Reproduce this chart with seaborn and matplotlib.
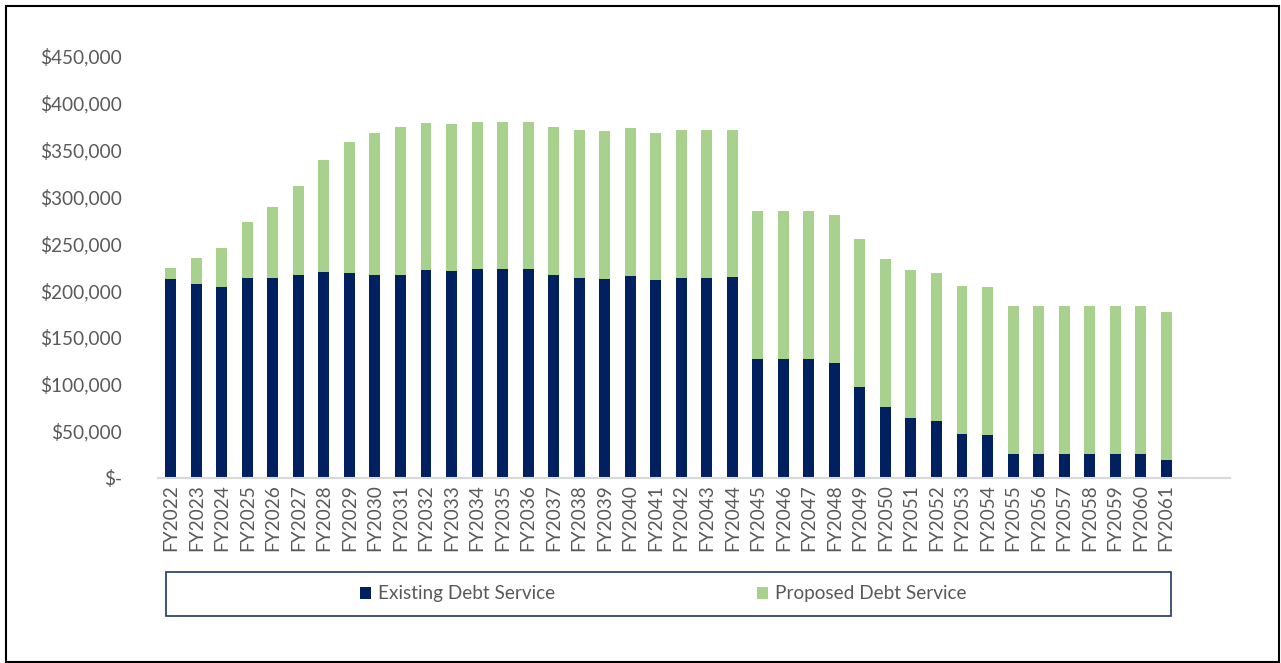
import matplotlib
matplotlib.use("Agg")
import matplotlib.pyplot as plt
import seaborn as sns
import pandas as pd
from matplotlib.patches import Rectangle, Patch
from matplotlib.ticker import FuncFormatter, MultipleLocator

years = ["FY2022", "FY2023", "FY2024", "FY2025", "FY2026", "FY2027", "FY2028", "FY2029",
         "FY2030", "FY2031", "FY2032", "FY2033", "FY2034", "FY2035", "FY2036", "FY2037",
         "FY2038", "FY2039", "FY2040", "FY2041", "FY2042", "FY2043", "FY2044", "FY2045",
         "FY2046", "FY2047", "FY2048", "FY2049", "FY2050", "FY2051", "FY2052", "FY2053",
         "FY2054", "FY2055", "FY2056", "FY2057", "FY2058", "FY2059", "FY2060", "FY2061"]

existing = [211600, 206300, 203100, 212700, 212700, 215900, 219100, 218000,
            215900, 215900, 221200, 220100, 222300, 222300, 222300, 215900,
            212700, 211600, 214800, 210500, 212700, 212700, 213700, 126300,
            126300, 126300, 122000, 96500, 75200, 63400, 60200, 46400,
            45300, 25100, 25100, 25100, 25100, 25100, 25100, 18700]

proposed = [11700, 27700, 41600, 59700, 75700, 94800, 119400, 139700,
            151400, 157800, 157800, 157800, 157700, 157700, 157700, 157800,
            157800, 157800, 157800, 157800, 157800, 157800, 157800, 157800,
            157800, 157800, 157800, 157700, 157700, 157800, 157800, 157700,
            157800, 157700, 157700, 157700, 157700, 157700, 157700, 157700]

series_names = ["Existing Debt Service", "Proposed Debt Service"]
NAVY = "#002060"
GREEN = "#A9D18E"
TXT = "#595959"
FS = 13.7

df = pd.DataFrame({"year": years, "existing": existing, "proposed": proposed})
df["total"] = df["existing"] + df["proposed"]

W, H = 1281, 663
fig = plt.figure(figsize=(W / 100, H / 100), dpi=100)
sns.set_style("white")
plt.rcParams["font.family"] = ["Lato", "DejaVu Sans"]

ax = fig.add_axes([158 / W, (H - 477.5) / H, 1072 / W, 421.5 / H])

sns.barplot(data=df, x="year", y="total", color=GREEN, saturation=1, width=0.43,
            linewidth=0, edgecolor="none", ax=ax)
sns.barplot(data=df, x="year", y="existing", color=NAVY, saturation=1, width=0.43,
            linewidth=0, edgecolor="none", ax=ax)

ax.set_xlim(-0.5, len(years) + 1.5)
ax.set_ylim(0, 450000)
ax.yaxis.set_major_locator(MultipleLocator(50000))
ax.yaxis.set_major_formatter(FuncFormatter(lambda v, p: "$-" if v == 0 else f"${v:,.0f}"))
ax.set_xlabel("")
ax.set_ylabel("")

for s in ["top", "right", "left"]:
    ax.spines[s].set_visible(False)
ax.spines["bottom"].set_color("#D9D9D9")
ax.spines["bottom"].set_linewidth(1.5)

ax.tick_params(axis="y", length=0, pad=26, labelsize=FS, labelcolor=TXT)
ax.tick_params(axis="x", length=0, pad=5, labelsize=FS, labelcolor=TXT, rotation=90)
for lbl in ax.get_xticklabels():
    lbl.set_verticalalignment("top")

# legend box
fig.patches.append(Rectangle((165.5 / W, (H - 616) / H), (1170.5 - 165.5) / W, 44 / H,
                             transform=fig.transFigure, fill=False, ec="#1F3864", lw=1.2))
handles = [Patch(facecolor=NAVY, edgecolor="none"), Patch(facecolor=GREEN, edgecolor="none")]
leg = fig.legend(handles, series_names, loc="center", bbox_to_anchor=(663.5 / W, (H - 594) / H),
                 ncol=2, frameon=False, fontsize=FS, handlelength=0.55, handleheight=0.55,
                 handletextpad=0.4, columnspacing=10.6, labelcolor=TXT)

# figure border
fig.patches.append(Rectangle((6 / W, 1 / H), 1273 / W, 656 / H, transform=fig.transFigure,
                             fill=False, ec="black", lw=1.5))

fig.savefig("out.png", dpi=100)
